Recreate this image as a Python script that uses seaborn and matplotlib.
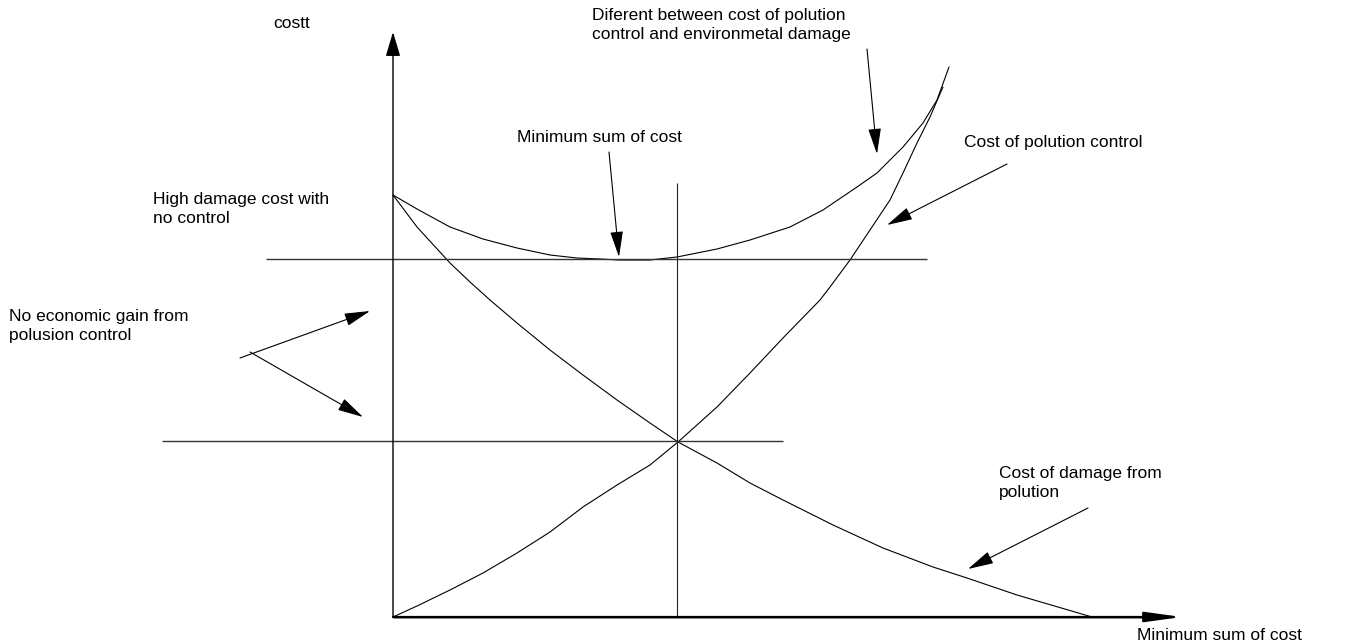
import pandas as pd
import matplotlib.pyplot as plt
import seaborn as sns

# coordenadas del diagrama: origen en el cruce de los ejes (control = 0, costo = 0)
damage_x = [0, 24, 57, 77, 97, 124, 157, 190, 224, 257, 285, 324, 357, 390, 440, 490, 540, 574, 624, 699]
damage_y = [422, 390, 354, 335, 317, 294, 267, 242, 217, 194, 175, 154, 134, 117, 92, 69, 50, 39, 22, 0]

control_x = [0, 24, 57, 90, 124, 157, 190, 224, 257, 285, 324, 357, 390, 427, 437, 457, 477, 497, 510, 524, 537, 550]
control_y = [0, 11, 27, 44, 64, 85, 110, 132, 152, 175, 210, 244, 279, 317, 330, 357, 387, 417, 444, 474, 500, 530]

sum_x = [0, 24, 57, 90, 124, 157, 184, 207, 226, 257, 284, 324, 357, 397, 430, 464, 484, 510, 530, 544, 556]
sum_y = [422, 408, 390, 378, 369, 362, 359, 358, 357, 357, 360, 368, 377, 390, 407, 430, 444, 470, 494, 517, 550]

# lineas de referencia
ref_h_y = [358, 176]
ref_h_xmin = [-127, -231]
ref_h_xmax = [534, 390]
ref_v_x = 284
ref_v_top = 434

# ejes con flecha
x_axis_end = 789
y_axis_end = 585

# flechas de anotacion (cola -> punta)
arrow_tails = [(216, 465), (474, 568), (614, 453), (695, 109), (-153, 259), (-143, 265)]
arrow_tips = [(226, 360), (484, 463), (494, 392), (575, 48), (-23, 306), (-30, 200)]

labels = [
    "costt",
    "Diferent between cost of polution\ncontrol and environmetal damage",
    "Minimum sum of cost",
    "Cost of polution control",
    "High damage cost with\nno control",
    "No economic gain from\npolusion control",
    "Cost of damage from\npolution",
    "Minimum sum of cost",
]

sns.set_theme(style="white")
plt.rcParams["font.family"] = ["Liberation Sans", "DejaVu Sans"]
plt.rcParams["text.color"] = "black"

curves = pd.concat([
    pd.DataFrame({"x": damage_x, "y": damage_y, "curve": "damage"}),
    pd.DataFrame({"x": control_x, "y": control_y, "curve": "control"}),
    pd.DataFrame({"x": sum_x, "y": sum_y, "curve": "sum"}),
], ignore_index=True)

fig = plt.figure(figsize=(13.68, 6.44), dpi=100)
ax = fig.add_axes([0, 0, 1, 1])
ax.set_xlim(-393, 975)
ax.set_ylim(-27, 617)
ax.axis("off")

sns.lineplot(data=curves, x="x", y="y", hue="curve", units="curve", estimator=None,
             sort=False, palette=["black"] * 3, legend=False, linewidth=0.8, ax=ax)

# lineas horizontales y vertical
ax.hlines(ref_h_y, ref_h_xmin, ref_h_xmax, color="#333333", linewidth=1.0)
ax.vlines(ref_v_x, 0, ref_v_top, color="#222222", linewidth=0.8)

# ejes
ax.annotate("", xy=(0, y_axis_end), xytext=(0, 0),
            arrowprops=dict(arrowstyle="-|>,head_length=1.5,head_width=0.45", color="black",
                            lw=1.0, shrinkA=0, shrinkB=0, mutation_scale=10))
ax.annotate("", xy=(x_axis_end, 0), xytext=(0, 0),
            arrowprops=dict(arrowstyle="-|>,head_length=2.2,head_width=0.3", color="#777777",
                            lw=1.6, shrinkA=0, shrinkB=0, mutation_scale=10, fc="black", ec="black"))
ax.hlines(0, 0, x_axis_end - 20, color="#777777", linewidth=1.8)

for tail, tip in zip(arrow_tails, arrow_tips):
    ax.annotate("", xy=tip, xytext=tail,
                arrowprops=dict(arrowstyle="-|>,head_length=1.6,head_width=0.4", color="black",
                                lw=0.8, shrinkA=0, shrinkB=0, mutation_scale=10))

fs = 12.5
ls = 1.4
ax.text(-120, 594, labels[0], fontsize=fs, va="center", ha="left")
ax.text(199, 592, labels[1], fontsize=fs, va="center", ha="left", linespacing=ls)
ax.text(124, 480, labels[2], fontsize=fs, va="center", ha="left")
ax.text(571, 475, labels[3], fontsize=fs, va="center", ha="left")
ax.text(-240, 408, labels[4], fontsize=fs, va="center", ha="left", linespacing=ls)
ax.text(-384, 291, labels[5], fontsize=fs, va="center", ha="left", linespacing=ls)
ax.text(606, 134, labels[6], fontsize=fs, va="center", ha="left", linespacing=ls)
ax.text(744, -18, labels[7], fontsize=fs, va="center", ha="left")

fig.savefig("out.png", dpi=100)
